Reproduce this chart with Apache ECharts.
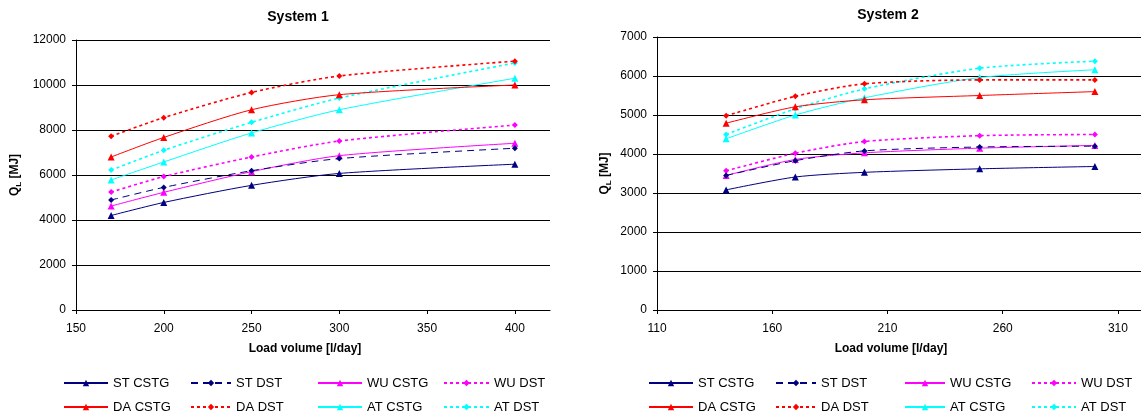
<!DOCTYPE html>
<html>
<head>
<meta charset="utf-8">
<script src="https://cdn.jsdelivr.net/npm/echarts@6/dist/echarts.min.js"></script>
<style>
html,body{margin:0;padding:0;background:#fff;}
#c{width:1141px;height:415px;}
</style>
</head>
<body>
<div id="c"></div>
<script>
// ---- data ----
var seriesNames = ['ST CSTG','ST DST','WU CSTG','WU DST','DA CSTG','DA DST','AT CSTG','AT DST'];
var x1 = [170, 200, 250, 300, 400];
var x2 = [140, 170, 200, 250, 300];
var xTicks1 = [150, 200, 250, 300, 350, 400];
var xTicks2 = [110, 160, 210, 260, 310];

// System 1
var s1_ST_CSTG = [4200, 4780, 5540, 6070, 6480];
var s1_ST_DST  = [4890, 5450, 6190, 6730, 7190];
var s1_WU_CSTG = [4620, 5230, 6150, 6860, 7410];
var s1_WU_DST  = [5240, 5930, 6800, 7510, 8220];
var s1_DA_CSTG = [6800, 7670, 8900, 9570, 10000];
var s1_DA_DST  = [7720, 8550, 9670, 10400, 11060];
var s1_AT_CSTG = [5780, 6580, 7870, 8900, 10300];
var s1_AT_DST  = [6220, 7100, 8340, 9420, 10980];

// System 2
var s2_ST_CSTG = [3080, 3410, 3530, 3620, 3680];
var s2_ST_DST  = [3450, 3830, 4080, 4180, 4200];
var s2_WU_CSTG = [3450, 3860, 4030, 4150, 4220];
var s2_WU_DST  = [3570, 4020, 4320, 4470, 4500];
var s2_DA_CSTG = [4790, 5210, 5390, 5500, 5600];
var s2_DA_DST  = [4980, 5480, 5800, 5900, 5900];
var s2_AT_CSTG = [4390, 5000, 5440, 5960, 6160];
var s2_AT_DST  = [4500, 5160, 5670, 6200, 6380];

var sys1 = [s1_ST_CSTG, s1_ST_DST, s1_WU_CSTG, s1_WU_DST, s1_DA_CSTG, s1_DA_DST, s1_AT_CSTG, s1_AT_DST];
var sys2 = [s2_ST_CSTG, s2_ST_DST, s2_WU_CSTG, s2_WU_DST, s2_DA_CSTG, s2_DA_DST, s2_AT_CSTG, s2_AT_DST];

// ---- styles ----
var colors = ['#000080','#000080','#FF00FF','#FF00FF','#FF0000','#FF0000','#00FFFF','#00FFFF'];
var lineTypes = ['solid',[7,5],'solid',[3,3],'solid',[3,3],'solid',[3,3]];
var lineWidths = [1,1,1,1.6,1,1.6,1,1.6];
var symbols = ['triangle','diamond','triangle','diamond','triangle','diamond','triangle','diamond'];
var FONT = 'Arial, "Liberation Sans", sans-serif';

function pairs(xs, ys){ return xs.map(function(x,i){ return [x, ys[i]]; }); }

var series = [];
[[sys1, x1, 0],[sys2, x2, 1]].forEach(function(s){
  s[0].forEach(function(vals, i){
    series.push({
      name: seriesNames[i],
      type: 'line',
      xAxisIndex: s[2], yAxisIndex: s[2],
      data: pairs(s[1], vals),
      smooth: 0.25,
      symbol: symbols[i],
      symbolSize: symbols[i] === 'triangle' ? 7 : 6,
      itemStyle: {color: colors[i]},
      lineStyle: {color: colors[i], width: lineWidths[i], type: lineTypes[i]},
      z: 10 - i,
      animation: false
    });
  });
});

function xAxis(grid, min, max, ticks){
  return {
    type: 'value', gridIndex: grid, min: min, max: max, interval: 50,
    name: 'Load volume [l/day]', nameLocation: 'middle', nameGap: 33,
    nameTextStyle: {fontFamily: FONT, fontWeight: 'bold', fontSize: 12, color: '#000', padding: [0, 16, 0, 0]},
    axisLine: {lineStyle: {color: '#000', width: 1}},
    axisTick: {show: true, length: 4, lineStyle: {color: '#000'}, customValues: ticks},
    axisLabel: {fontFamily: FONT, fontSize: 12, color: '#000', margin: 13, customValues: ticks},
    splitLine: {show: false}
  };
}
function yAxis(grid, max, interval, gap){
  return {
    type: 'value', gridIndex: grid, min: 0, max: max, interval: interval,
    name: '{q|Q}{s|L}{q| [MJ]}', nameLocation: 'middle', nameGap: gap, nameRotate: 90,
    nameTextStyle: {
      rich: {
        q: {fontFamily: FONT, fontWeight: 'bold', fontSize: 12, color: '#000', lineHeight: 16},
        s: {fontFamily: FONT, fontWeight: 'bold', fontSize: 8, color: '#000', verticalAlign: 'bottom', lineHeight: 16, padding: [6,0,0,0]}
      }
    },
    axisLine: {show: true, lineStyle: {color: '#000', width: 1}},
    axisTick: {show: true, length: 4, lineStyle: {color: '#000'}},
    axisLabel: {fontFamily: FONT, fontSize: 12, color: '#000', margin: 10, formatter: function(v){ return String(v); }},
    splitLine: {show: true, lineStyle: {color: '#000', width: 1}}
  };
}

function legend(left, names, width){
  return {
    orient: 'vertical', left: left, top: 376,
    itemWidth: width, itemHeight: 8, itemGap: 10,
    padding: 0,
    data: names,
    textStyle: {fontFamily: FONT, fontSize: 13, color: '#000', lineHeight: 14},
    selectedMode: false
  };
}

var option = {
  backgroundColor: '#fff',
  animation: false,
  grid: [
    {left: 76, top: 40, width: 474, height: 270},
    {left: 657, top: 37, width: 484, height: 273}
  ],
  xAxis: [xAxis(0, 150, 420, xTicks1), xAxis(1, 110, 320, xTicks2)],
  yAxis: [yAxis(0, 12000, 2000, 53), yAxis(1, 7000, 1000, 44)],
  legend: [
    legend(63,  ['ST CSTG','DA CSTG'], 44),
    legend(190, ['ST DST','DA DST'], 40),
    legend(317, ['WU CSTG','AT CSTG'], 44),
    legend(443, ['WU DST','AT DST'], 45),
    legend(648, ['ST CSTG','DA CSTG'], 44),
    legend(775, ['ST DST','DA DST'], 40),
    legend(904, ['WU CSTG','AT CSTG'], 40),
    legend(1031,['WU DST','AT DST'], 44)
  ],
  graphic: [
    {type: 'text', x: 298, y: 17, style: {text: 'System 1', font: 'bold 14px ' + FONT, fill: '#000', align: 'center', verticalAlign: 'middle'}},
    {type: 'text', x: 888, y: 15, style: {text: 'System 2', font: 'bold 14px ' + FONT, fill: '#000', align: 'center', verticalAlign: 'middle'}}
  ],
  series: series
};

var chart = echarts.init(document.getElementById('c'), null, {renderer: 'canvas'});
chart.setOption(option);
</script>
</body>
</html>
